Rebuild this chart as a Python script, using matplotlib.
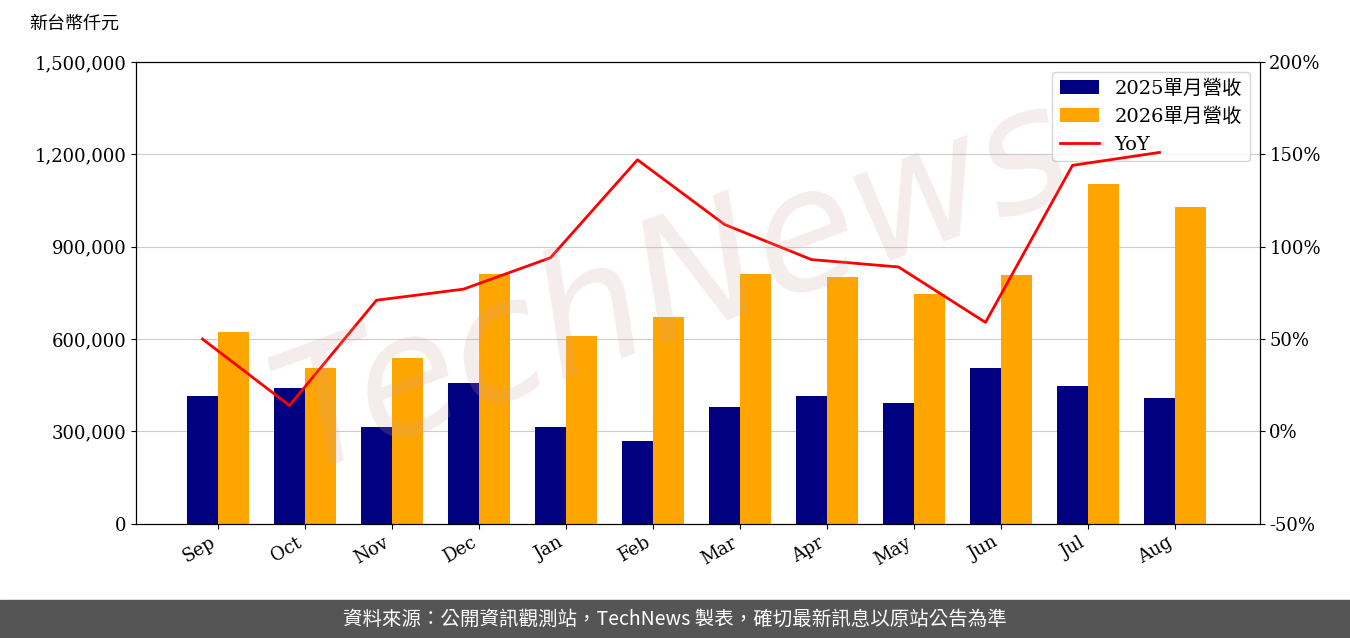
import matplotlib.pyplot as plt
import numpy as np
from matplotlib.patches import Rectangle
from matplotlib.ticker import FuncFormatter

plt.rcParams['font.family'] = ['DejaVu Serif', 'Noto Sans CJK TC']

months = ['Sep', 'Oct', 'Nov', 'Dec', 'Jan', 'Feb', 'Mar', 'Apr', 'May', 'Jun', 'Jul', 'Aug']
rev_2025 = [415000, 441000, 315000, 458000, 315000, 270000, 380000, 415000, 393000, 506000, 448000, 409000]
rev_2026 = [623000, 506000, 539000, 812000, 610000, 672000, 812000, 802000, 747000, 808000, 1104000, 1029000]
yoy = [50, 14, 71, 77, 94, 147, 112, 93, 89, 59, 144, 151]

fig = plt.figure(figsize=(13.5, 6.38), dpi=100)
ax = fig.add_axes([0.101, 0.179, 0.832, 0.724])
x = np.arange(len(months))
w = 0.36
b1 = ax.bar(x, rev_2025, w, color='#000080', label='2025單月營收', zorder=2)
b2 = ax.bar(x + w, rev_2026, w, color='#FFA500', label='2026單月營收', zorder=2)
ax.set_ylim(0, 1500000)
ax.set_yticks(np.arange(0, 1500001, 300000))
ax.yaxis.set_major_formatter(FuncFormatter(lambda v, p: f'{int(v):,}'))
ax.grid(axis='y', color='#cccccc', zorder=0)
ax.set_xlim(-0.76, 12.15)
ax.set_xticks(x + w / 2)
ax.set_xticklabels(months, rotation=30, ha='right')
ax.tick_params(labelsize=13)

ax2 = ax.twinx()
l1, = ax2.plot(x, yoy, color='red', lw=2, label='YoY')
ax2.set_ylim(-50, 200)
ax2.set_yticks(np.arange(-50, 201, 50))
ax2.yaxis.set_major_formatter(FuncFormatter(lambda v, p: f'{int(v)}%'))
ax2.tick_params(labelsize=13)

ax.legend([b1, b2, l1], ['2025單月營收', '2026單月營收', 'YoY'], loc='upper right',
          prop={'family': ['DejaVu Serif', 'Noto Sans CJK TC'], 'size': 14})

fig.text(0.5, 0.55, 'TechNews', fontsize=120, color='#d0a0a0', alpha=0.2,
         rotation=20, ha='center', va='center', family='DejaVu Sans', style='italic')
fig.text(0.022, 0.955, '新台幣仟元', fontsize=13, family='Noto Sans CJK TC')

fig.patches.append(Rectangle((0, 0), 1, 0.06, transform=fig.transFigure, color='#555555'))
fig.text(0.5, 0.03, '資料來源：公開資訊觀測站，TechNews 製表，確切最新訊息以原站公告為準',
         color='white', fontsize=14, ha='center', va='center', family='Noto Sans CJK TC')

fig.savefig('out.png', dpi=100)
